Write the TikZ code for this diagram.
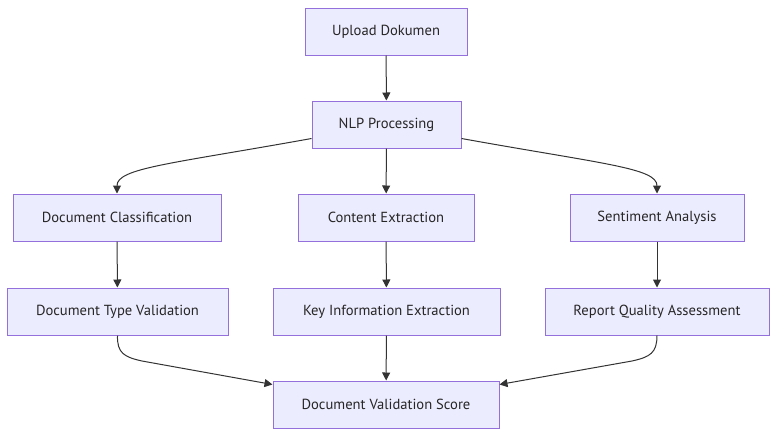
\documentclass[tikz,border=0pt]{standalone}
\usepackage{fontspec}
\setmainfont{PT Sans}
\usetikzlibrary{arrows.meta}
\definecolor{boxfill}{HTML}{ECECFF}
\definecolor{boxdraw}{HTML}{9370DB}
\definecolor{edge}{HTML}{333333}
\begin{document}
\begin{tikzpicture}[x=1pt,y=-1pt,
  box/.style={draw=boxdraw,fill=boxfill,line width=1pt,minimum height=47pt,inner sep=0pt,font=\fontsize{14.6}{17}\selectfont,text=black!85},
  conn/.style={draw=edge,line width=1pt,-{Triangle[length=8pt,width=8pt]}}]
\useasboundingbox (0,0) rectangle (784,442);
\node[box,minimum width=162pt] (up) at (386,31.5) {Upload Dokumen};
\node[box,minimum width=149pt] (nlp) at (386.5,124.5) {NLP Processing};
\node[box,minimum width=208pt] (dc) at (117,217.5) {Document Classification};
\node[box,minimum width=176pt] (ce) at (386,217.5) {Content Extraction};
\node[box,minimum width=174pt] (sa) at (657,217.5) {Sentiment Analysis};
\node[box,minimum width=221pt] (dtv) at (117.5,311.5) {Document Type Validation};
\node[box,minimum width=227pt] (kie) at (386.5,311.5) {Key Information Extraction};
\node[box,minimum width=224pt] (rqa) at (657,311.5) {Report Quality Assessment};
\node[box,minimum width=226pt] (dvs) at (386,404.5) {Document Validation Score};
\coordinate (nlpL) at ([yshift=-14pt]nlp.west);
\coordinate (nlpR) at ([yshift=-14pt]nlp.east);
\coordinate (dvsL) at ([yshift=20pt]dvs.west);
\coordinate (dvsR) at ([yshift=20pt]dvs.east);
\draw[conn] (up) -- (nlp);
\draw[conn] (nlp) -- (ce);
\draw[conn] (nlpL) .. controls (170,164) and (117,168) .. (dc.north);
\draw[conn] (nlpR) .. controls (603,164) and (657,168) .. (sa.north);
\draw[conn] (dc) -- (dtv);
\draw[conn] (ce) -- (kie);
\draw[conn] (sa) -- (rqa);
\draw[conn] (kie) -- (dvs);
\draw[conn] (dtv.south) .. controls (117,353) and (124,357) .. (142,361) -- (dvsL);
\draw[conn] (rqa.south) .. controls (657,353) and (650,357) .. (632,361) -- (dvsR);
\end{tikzpicture}
\end{document}
